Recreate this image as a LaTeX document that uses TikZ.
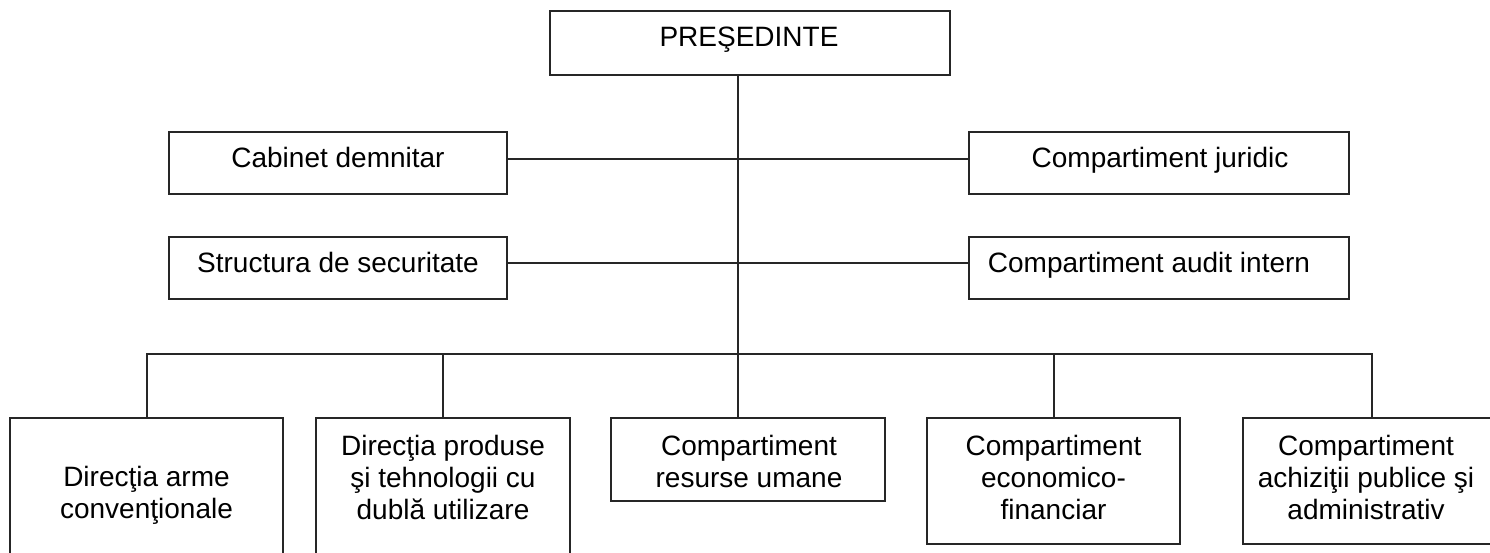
\documentclass[tikz,border=0pt]{standalone}
\usepackage{fontspec}
\setmainfont{Liberation Sans}
\tikzset{
  box/.style={draw=black!85, line width=2pt, rectangle, inner sep=0pt},
  lbl/.style={font=\fontsize{28pt}{32pt}\selectfont, align=center, inner sep=0pt, text=black},
  conn/.style={draw=black!85, line width=2pt}
}
\begin{document}
\begin{tikzpicture}[x=1pt,y=-1pt]
\fill[white] (0,0) rectangle (1490,552);
\useasboundingbox (0,0) rectangle (1490,552);

% boxes
\node[box, minimum width=400pt, minimum height=64pt] (pres) at (750,43) {};
\node[box, minimum width=338pt, minimum height=62pt] (cab) at (338,163) {};
\node[box, minimum width=338pt, minimum height=62pt] (sec) at (338,268) {};
\node[box, minimum width=380pt, minimum height=62pt] (jur) at (1159,163) {};
\node[box, minimum width=380pt, minimum height=62pt] (aud) at (1159,268) {};
\node[box, minimum width=273pt, minimum height=142pt] (b1) at (146.5,489) {};
\node[box, minimum width=254pt, minimum height=142pt] (b2) at (443,489) {};
\node[box, minimum width=274pt, minimum height=83pt] (b3) at (748,459.5) {};
\node[box, minimum width=253pt, minimum height=126pt] (b4) at (1053.5,481) {};
\node[box, minimum width=257pt, minimum height=126pt] (b5) at (1371.5,481) {};

% texts
\node[lbl] (prest) at (749,40) {PREŞEDINTE};
\node[lbl] (cabt) at (338,157.5) {Cabinet demnitar};
\node[lbl] (sect) at (338,262.5) {Structura de securitate};
\node[lbl] (jurt) at (1160,160) {Compartiment juridic};
\node[lbl] (audt) at (1149,265) {Compartiment audit intern};
\node[lbl] (b1t) at (146.5,495) {Direcţia arme\\convenţionale};
\node[lbl] (b2t) at (443,477) {Direcţia produse\\şi tehnologii cu\\dublă utilizare};
\node[lbl] (b3t) at (749,461) {Compartiment\\resurse umane};
\node[lbl] (b4t) at (1053.5,477) {Compartiment\\economico-\\financiar};
\node[lbl] (b5t) at (1366,477) {Compartiment\\achiziţii publice şi\\administrativ};

% connectors
\coordinate (j) at (738,354);
\draw[conn] (pres.south -| j) -- (j);
\draw[conn] (j) -- (j |- b3.north);
\draw[conn] ([yshift=4pt]cab.east) -- ([yshift=4pt]jur.west);
\draw[conn] ([yshift=5pt]sec.east) -- ([yshift=5pt]aud.west);
\draw[conn] (b1.north) -- (b1.north |- j) -- (b5.north |- j) -- (b5.north);
\draw[conn] (b2.north) -- (b2.north |- j);
\draw[conn] (b4.north) -- (b4.north |- j);
\end{tikzpicture}
\end{document}
